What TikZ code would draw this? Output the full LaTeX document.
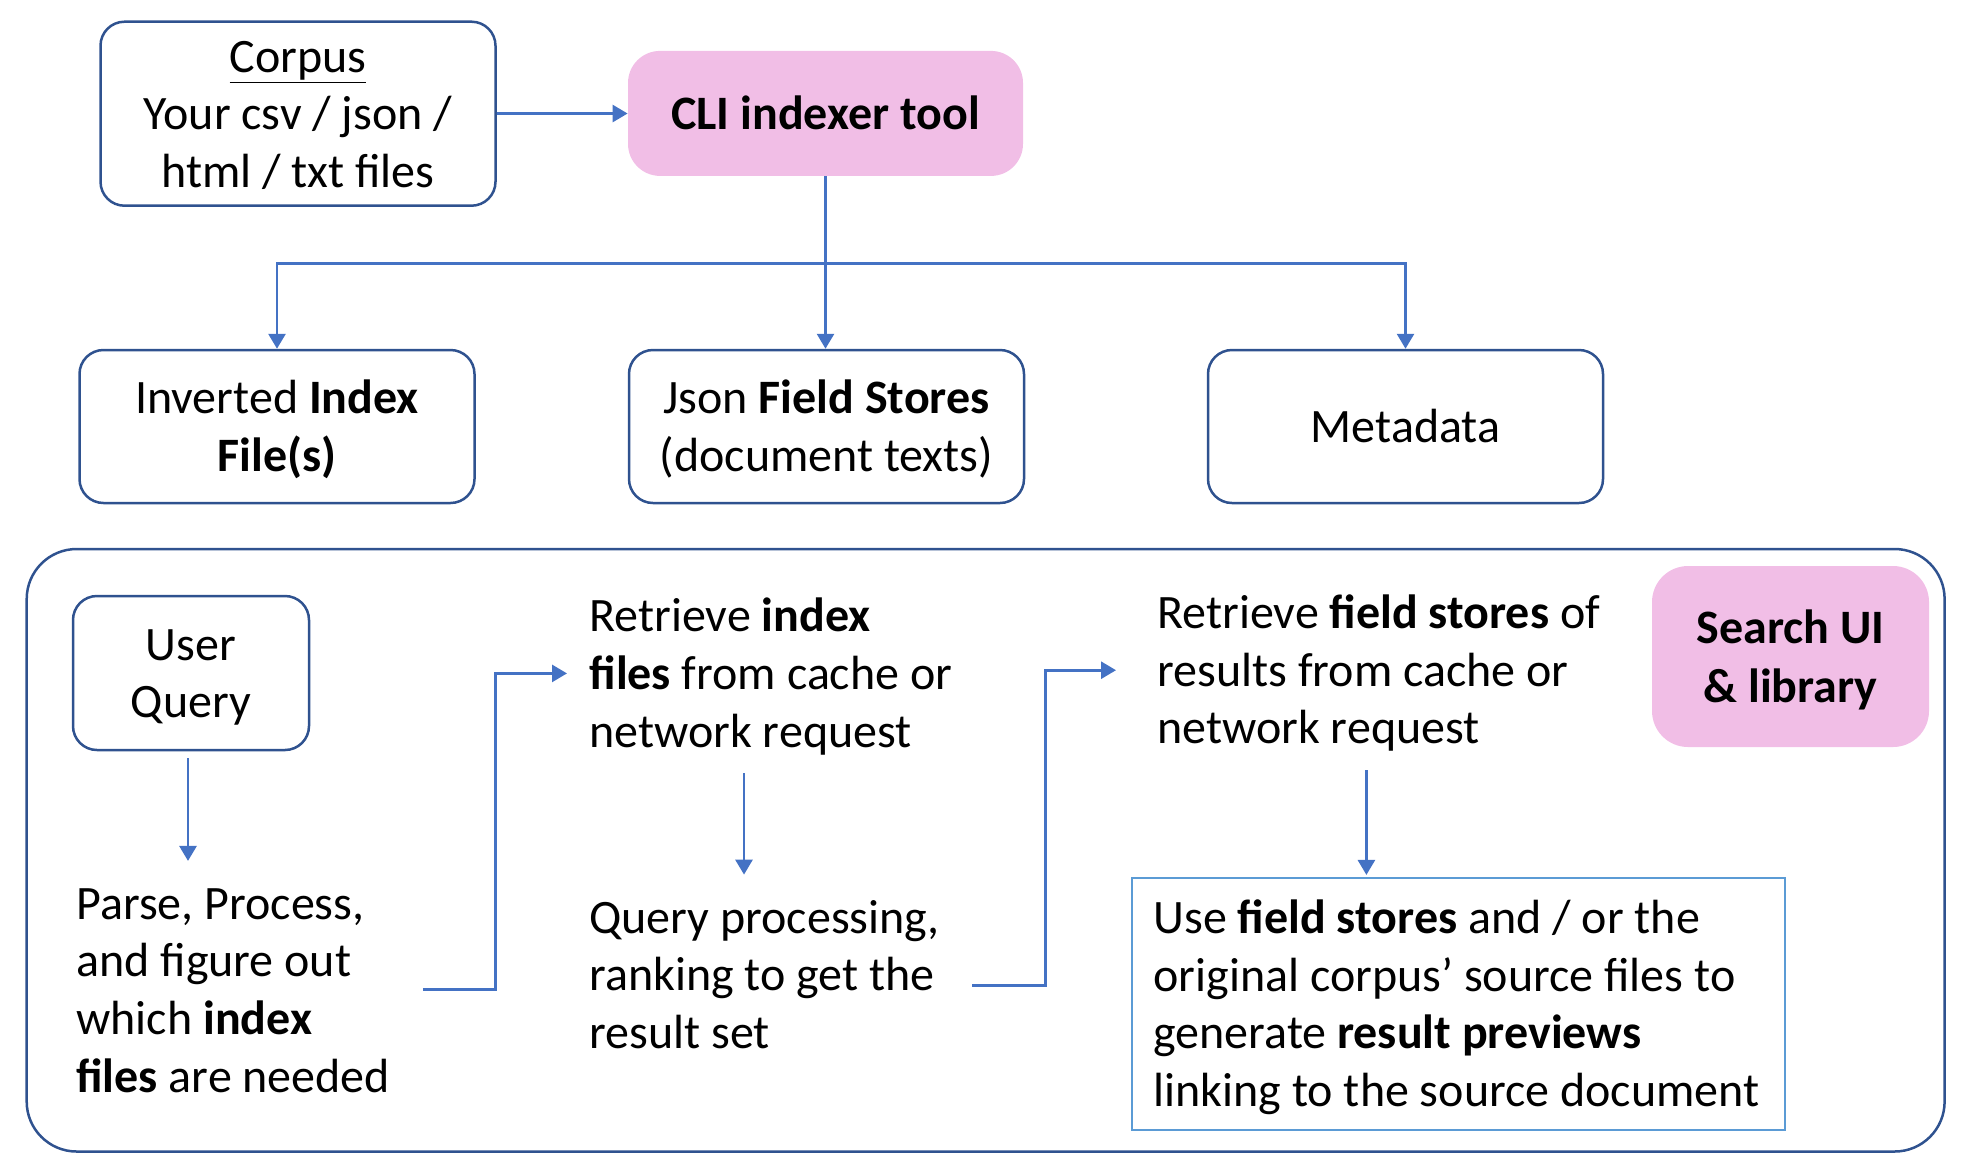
\documentclass[tikz,border=0pt]{standalone}
\usepackage{fontspec}
\setmainfont{Carlito}
\usetikzlibrary{arrows.meta}
\definecolor{boxline}{RGB}{47,82,143}
\definecolor{arrowblue}{RGB}{68,114,196}
\definecolor{cellpink}{RGB}{241,190,230}
\definecolor{previewline}{RGB}{91,155,213}
\newcommand{\strtop}{29pt}
\newcommand{\strbot}{13pt}

\begin{document}
\begin{tikzpicture}[x=0.5pt,y=-0.5pt,>={Triangle[length=7.5pt,width=8.5pt]},
  every node/.style={font=\fontsize{24pt}{28.8pt}\selectfont,
    execute at begin node={\rule{0pt}{\strtop}},execute at end node={\rule[-\strbot]{0pt}{0pt}}},
  tightlines/.code={\def\strtop{22pt}\def\strbot{6pt}},
  databox/.style={draw=boxline,line width=1.25pt,rounded corners=12pt,align=flush center,
    text width=197.5pt,minimum height=76.5pt,inner sep=0pt},
  toolbox/.style={fill=cellpink,rounded corners=16pt,align=flush center,inner sep=0pt,
    font=\fontsize{24pt}{29.5pt}\selectfont\bfseries},
  stepnote/.style={align=flush left,inner sep=0pt,anchor=west},
  flow/.style={->,draw=arrowblue,line width=1.4pt},
]
\useasboundingbox (0,0) rectangle (1968,1174);

\node[databox,tightlines,minimum height=92pt] (corpus) at (298,113.7) {\underline{Corpus}\\Your csv / json /\\html / txt files};
\node[toolbox,text width=197.5pt,minimum height=62.5pt] (cli) at (825.5,113.4) {CLI indexer tool};
\node[databox] (invidx) at (277,426.5) {Inverted \textbf{Index}\\\textbf{File(s)}};
\node[databox] (fields) at (826.5,426.5) {Json \textbf{Field Stores}\\(document texts)};
\node[databox] (meta) at (1405.5,426.5) {Metadata};

\draw[flow] (corpus) -- (cli);
\draw[flow] (cli.south) -- (cli.south |- fields.north);
\draw[flow] (cli.south) -- ++(0,87) -| (invidx.north);
\draw[flow] (cli.south) -- ++(0,87) -| (meta.north);

\draw[draw=boxline,line width=1.25pt,rounded corners=25pt] (26.7,549) rectangle (1944.6,1151.5);
\node[toolbox,text width=138.5pt,minimum height=90.5pt,rounded corners=18pt] (searchui) at (1790.5,656.5) {Search UI\\\& library};

\node[databox,text width=118pt,minimum height=77pt] (uquery) at (191,673) {User\\Query};
\node[stepnote,text width=173pt] (parse) at (76,989.7) {Parse, Process,\\and figure out\\which \textbf{index}\\\textbf{files} are needed};
\node[stepnote,text width=190pt] (getidx) at (589,673.4) {Retrieve \textbf{index}\\\textbf{files} from cache or\\network request};
\node[stepnote,text width=191.3pt] (rank) at (589,974.6) {Query processing,\\ranking to get the\\result set};
\node[stepnote,text width=230pt] (getfld) at (1157,670.2) {Retrieve \textbf{field stores} of\\results from cache or\\network request};
\node[draw=previewline,line width=1.1pt,tightlines,align=flush left,text width=305pt,inner xsep=10.8pt,inner ysep=0pt,
  minimum height=126pt] (preview) at (1458.5,1004) {Use \textbf{field stores} and / or the\\original corpus’ source files to\\generate \textbf{result previews}\\linking to the source document};

\draw[flow,shorten <=3.5pt] ([xshift=-1.5pt]uquery.south) -- ([xshift=-1.5pt]uquery.south |- parse.north);
\draw[flow,shorten >=11pt] (parse.east) -- ++(73,0) |- (getidx.west);
\draw[flow] ([xshift=-17.7pt]getidx.south) -- ([xshift=-17.7pt]getidx.south |- rank.north);
\draw[flow,shorten >=20.5pt] ([yshift=-5.5pt]rank.east) -- ++(73,0) |- (getfld.west);
\draw[flow,shorten >=1pt] ([xshift=-10.5pt]getfld.south) -- ([xshift=-10.5pt]getfld.south |- preview.north);
\end{tikzpicture}
\end{document}
